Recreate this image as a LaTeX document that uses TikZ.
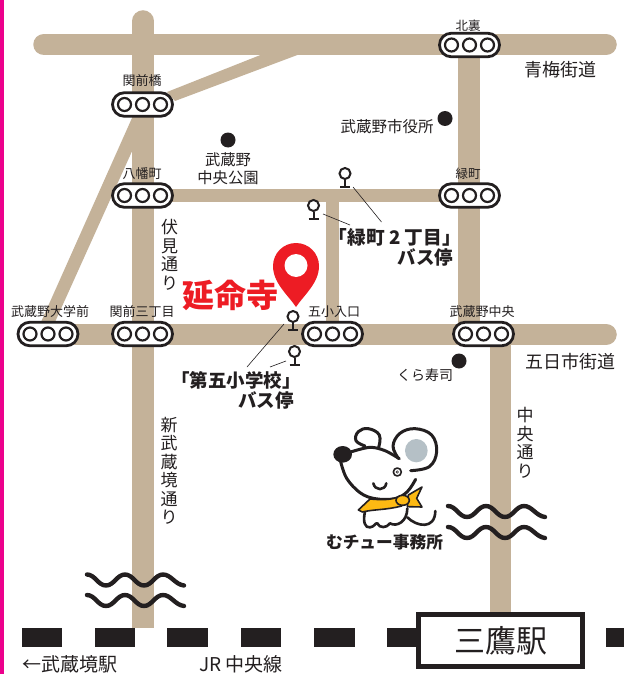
\documentclass[tikz,border=0pt]{standalone}
\usepackage{fontspec}
\setmainfont{Noto Sans CJK JP}
\usetikzlibrary{shapes.misc}
\definecolor{road}{HTML}{C4B299}
\definecolor{ink}{HTML}{231F20}
\definecolor{pinred}{HTML}{ED1C24}
\definecolor{barpink}{HTML}{EC008C}
\definecolor{earg}{HTML}{B5C0C6}
\definecolor{scarf}{HTML}{FDB913}
\newcommand{\fsz}[1]{\fontsize{#1}{#1}\selectfont}
\tikzset{
  roadwide/.style={line width=21.5pt,draw=road},
  roadthin/.style={line width=13pt,draw=road},
  sigbox/.style={draw=ink,fill=white,line width=2.8pt,rounded rectangle,minimum width=60pt,minimum height=23.5pt,inner sep=0pt,outer sep=0pt},
  lamp/.style={draw=ink,fill=white,line width=2.2pt,circle,minimum size=13pt,inner sep=0pt},
  lab/.style={text=ink,inner sep=0pt,font=\fsz{#1}},
  blab/.style={text=ink,inner sep=0pt,font=\bfseries\fsz{#1}},
  vlab/.style={text=ink,inner sep=0pt,align=center,font=\fontsize{#1}{18.5pt}\selectfont},
  stophead/.style={draw=ink,fill=white,line width=2pt,circle,minimum size=11pt,inner sep=0pt},
  stopline/.style={draw=ink,line width=2pt},
  leader/.style={draw=ink,line width=.6pt},
  poi/.style={fill=ink,circle,minimum size=15pt,inner sep=0pt},
  raildash/.style={fill=ink},
  wave/.style={draw=ink,line width=4.4pt,line cap=round},
  mouseline/.style={draw=ink,line cap=round,line join=round}
}
% signal: name, x, y
\newcommand{\signalbox}[3]{%
  \node[sigbox] (#1) at (#2,#3) {};
  \node[lamp] (#1a) at ([xshift=-18pt]#1.center) {};
  \node[lamp] (#1b) at (#1.center) {};
  \node[lamp] (#1c) at ([xshift=18pt]#1.center) {};
}
% bus stop: name, x, y (centre of head)
\newcommand{\busstop}[3]{%
  \node[stophead] (#1) at (#2,#3) {};
  \coordinate (#1b) at (#2,#3+13.5);
  \draw[stopline] (#1.south) -- (#1b);
  \draw[stopline] ([xshift=-5pt]#1b) -- ([xshift=5pt]#1b);
}
\newcommand{\wavyline}[2]{%
  \draw[wave,shift={(#1,#2)}] (0,0) .. controls (8,0) and (11,11) .. (19,11)
    .. controls (27,11) and (30,0) .. (38,0)
    .. controls (46,0) and (49,11) .. (57,11)
    .. controls (65,11) and (68,0) .. (76,0)
    .. controls (84,0) and (88,10) .. (97,11);
}
\begin{document}
\begin{tikzpicture}[x=1pt,y=-1pt]
\useasboundingbox (0,0) rectangle (631,674);
\fill[white] (0,0) rectangle (631,674);
\fill[barpink] (0,0) rectangle (4,674);
% junction coordinates
\coordinate (tl) at (44,44.5); \coordinate (tr) at (606,44.5);
\coordinate (vt) at (143,21); \coordinate (vb) at (143,628);
\coordinate (ml) at (48,334.5); \coordinate (mr) at (606,334.5);
\coordinate (nr) at (469,44.5); \coordinate (mj) at (469,334.5);
\coordinate (ct) at (332.5,195.5); \coordinate (cb) at (332.5,334.5);
\coordinate (sl) at (143,195.5); \coordinate (sr) at (469,195.5);
\coordinate (ct2) at (500.5,334.5); \coordinate (cb2) at (500.5,612);
% roads
\draw[roadwide,line cap=round] (tl) -- (tr);
\draw[roadwide,line cap=round] (vt) -- (143,60);
\draw[roadwide] (143,50) -- (vb);
\draw[roadwide,line cap=round] (ml) -- (mr);
\draw[roadwide] (nr) -- (mj);
\draw[roadwide] (ct2) -- (cb2);
\draw[roadthin] (sl) -- (sr);
\draw[roadthin] (ct) -- (cb);
\fill[road] (167,92) -- (263,54) -- (300,54) -- (175,101) -- cycle;
\fill[road] (132,118) -- (147,118) -- (55,322) -- (41,322) -- cycle;
% rail
\foreach \a/\b in {22/62,95/135,167/208,241/281,314/355,387/420,606/624}
  \fill[raildash] (\a,628) rectangle (\b,647);
\node[draw=ink,fill=white,line width=5pt,minimum width=164pt,minimum height=52pt,inner sep=0pt,font=\fsz{31},text=ink] (station) at (500.5,640.5) {三鷹駅};
% waves
\wavyline{448}{506}
\wavyline{448}{527}
\wavyline{87}{574.5}
\wavyline{87}{595}
% signals
\signalbox{sekimae}{142.5}{104.5}
\signalbox{yawata}{142.5}{195.5}
\signalbox{sanchome}{142.5}{334}
\signalbox{daigaku}{48}{334}
\signalbox{goshou}{332.5}{334}
\signalbox{chuo}{483.5}{334}
\signalbox{kitaura}{469.5}{45}
\signalbox{midori}{469.5}{195.5}
% signal labels
\node[lab=13] (l1) at (142,81) {関前橋};
\node[lab=13] (l2) at (142,173.5) {八幡町};
\node[lab=13] (l3) at (142,311.5) {関前三丁目};
\node[lab=13] (l4) at (50,311.5) {武蔵野大学前};
\node[lab=13] (l5) at (334,311.5) {五小入口};
\node[lab=13] (l6) at (482,311.5) {武蔵野中央};
\node[lab=12.5] (l7) at (468,25.5) {北裏};
\node[lab=12.5] (l8) at (468,173.5) {緑町};
% points of interest
\node[poi] (park) at (228,140) {};
\node[poi] (cityhall) at (445,118.5) {};
\node[poi] (kura) at (459,361) {};
\node[lab=15.3] (t1) at (228,160) {武蔵野};
\node[lab=15.3] (t2) at (228,177.5) {中央公園};
\node[lab=15.5] (t3) at (387,127) {武蔵野市役所};
\node[lab=14] (t4) at (425,375) {くら寿司};
\node[lab=18] (t5) at (560,69.5) {青梅街道};
\node[lab=18] (t6) at (570,362) {五日市街道};
% vertical labels
\node[vlab=17] (v1) at (169.5,255) {伏\\見\\通\\り};
\node[vlab=17] (v2) at (169,471) {新\\武\\蔵\\境\\通\\り};
\node[vlab=17] (v3) at (525,443) {中\\央\\通\\り};
% bus stops
\busstop{s1}{345}{173.5}
\busstop{s2}{313.5}{205.5}
\busstop{s3}{293}{316.5}
\busstop{s4}{294.5}{351.5}
\node[blab=18.7] (b1) at (395,237) {「緑町 2 丁目」};
\node[blab=18.5] (b2) at (425.5,257) {バス停};
\node[blab=18.5] (b3) at (236,380) {「第五小学校」};
\node[blab=18.5] (b4) at (266,400) {バス停};
\coordinate (e1) at (381.5,222); \coordinate (e2) at (350,225);
\coordinate (e3) at (247,367); \coordinate (e4) at (270,367);
\coordinate (f1) at (353,187); \coordinate (f2) at (323,214);
\coordinate (f3) at (284,324); \coordinate (f4) at (286,361);
\draw[leader] (f1) -- (e1);
\draw[leader] (f2) -- (e2);
\draw[leader] (f3) -- (e3);
\draw[leader] (f4) -- (e4);
% pin
\fill[pinred] (296,307) .. controls (288,295) and (273,283) .. (273,266)
  .. controls (273,253.3) and (283.3,243) .. (296,243)
  .. controls (308.7,243) and (319,253.3) .. (319,266)
  .. controls (319,283) and (304,295) .. (296,307) -- cycle;
\fill[white] (296,265.5) circle (11.5);
\node[text=pinred,inner sep=0pt,font=\bfseries\fsz{32}] (temple) at (230,295) {延命寺};
% mouse
\begin{scope}[shift={(320,410)},x=.3333pt,y=-.3333pt]
  \draw[mouseline,line width=3pt] plot[smooth,tension=.7] coordinates {(135,108) (108,92) (115,65) (145,56) (178,75) (176,112)};
  \draw[mouseline,line width=3pt] plot[smooth,tension=.65] coordinates {(235,145) (219,108) (240,70) (285,56) (335,75) (350,125) (328,170) (272,182)};
  \fill[earg] (289,122) ellipse (34 and 35);
  \draw[mouseline,line width=3pt] plot[smooth,tension=.55] coordinates {(95,125) (150,112) (195,122) (238,146)};
  \draw[mouseline,line width=3pt] plot[smooth,tension=.6] coordinates {(62,155) (80,205) (120,248) (165,266) (225,266) (262,245) (287,208)};
  \fill[ink] (68,133) ellipse (28 and 25);
  \draw[mouseline,line width=1.6pt,fill=white] (232,186) circle (12);
  \fill[ink] (232,186) circle (5);
  \fill[white] (232,186) circle (2);
  \draw[mouseline,line width=2.6pt] (160,220) .. controls (165,243) and (195,243) .. (199,220);
  \draw[mouseline,line width=2.6pt,fill=white] (135,305) .. controls (128,335) and (135,355) .. (150,352)
    .. controls (165,350) and (165,338) .. (172,340) .. controls (178,355) and (200,355) .. (210,340)
    .. controls (230,352) and (262,335) .. (262,295);
  \draw[mouseline,line width=2.6pt] (262,322) .. controls (290,350) and (345,360) .. (346,303);
  \draw[draw=ink,line width=1.6pt,fill=scarf,line join=round] (115,300) -- (150,267) .. controls (185,270) and (210,270) .. (232,262)
    -- (245,288) .. controls (200,300) and (160,298) .. (127,306) -- cycle;
  \draw[draw=ink,line width=1.6pt,fill=scarf,line join=round] (265,255) -- (306,231) -- (290,265) -- (306,291) -- (262,290) -- cycle;
  \draw[draw=ink,line width=1.6pt,fill=scarf] (248,271) ellipse (20 and 15);
\end{scope}
\node[blab=16.7] (mu) at (384.5,542) {むチュー事務所};
% bottom labels
\node[lab=19,anchor=west] (w1) at (22,664) {←武蔵境駅};
\node[lab=19] (w2) at (241,664) {JR 中央線};
\end{tikzpicture}
\end{document}
